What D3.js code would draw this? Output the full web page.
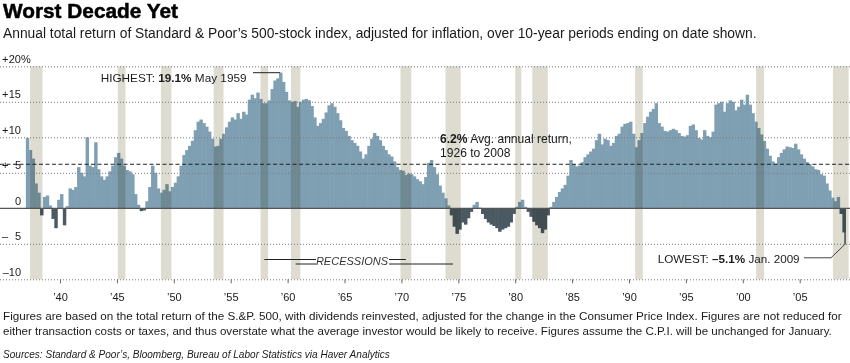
<!DOCTYPE html>
<html>
<head>
<meta charset="utf-8">
<script src="https://cdn.jsdelivr.net/npm/d3@7"></script>
<style>
body { margin: 0; background: #fff; }
svg text { font-family: "Liberation Sans", Arial, Helvetica, sans-serif; fill: #1a1a1a; }
</style>
</head>
<body>
<svg id="chart" width="850" height="363"></svg>
<script>
// 10-year annualized real total return, quarterly, period ending 1937 Q1 .. 2008 Q4
var startYear = 1937;
var returns1930s = [
  9.9, 8.2, 7.0, 3.5,   // 1937
  2.2, -1.0, 1.6, 1.8,  // 1938
  0.4, -1.5, -2.8, 1.2  // 1939
];
var returns1940s = [
  2.0, -2.4, 0.3, 2.8,
  2.6, 3.0, 5.8, 5.0,
  4.5, 10.0, 6.0, 5.8,
  9.3, 5.5, 4.5, 4.0,
  4.5, 5.2, 6.0, 7.2,
  7.8, 7.0, 6.0, 5.4,
  5.2, 4.8, 2.0, 0.5,
  -0.4, -0.3, 1.0, 3.0,
  6.0, 5.0, 2.8, 2.2,
  2.6, 3.4, 2.4, 3.0
];
var returns1950s = [
  3.6, 4.5, 6.0, 7.5,
  8.2, 8.8, 9.5, 11.0,
  12.2, 12.5, 12.0, 11.5,
  10.8, 9.8, 8.7, 8.8,
  9.8, 10.5, 11.4, 12.2,
  12.8, 12.5, 13.4, 12.6,
  13.6, 13.2, 15.3, 16.0,
  15.5, 16.3, 15.4, 14.8,
  14.8, 15.2, 16.8, 18.0,
  18.3, 19.1, 17.8, 16.4
];
var returns1960s = [
  15.2, 15.0, 15.1, 14.3,
  15.0, 15.3, 15.4, 15.2,
  14.4, 12.8, 11.6, 12.0,
  12.6, 13.5, 14.5, 14.8,
  14.3, 13.4, 12.4, 11.3,
  10.9, 10.2, 9.6, 9.2,
  8.8, 8.0, 7.0, 7.6,
  8.8, 9.8, 10.6, 10.2,
  9.6, 8.8, 8.2, 7.6,
  7.3, 6.6, 5.8, 5.4
];
var returns1970s = [
  5.3, 4.7, 4.9, 4.8,
  4.5, 4.1, 3.8, 3.4,
  4.4, 6.4, 6.8, 5.8,
  4.8, 3.2, 2.2, 1.4,
  0.4, -1.0, -2.6, -3.6,
  -3.0, -2.0, -2.3, -1.4,
  -0.5, 0.5, 0.9, 0.1,
  -0.8, -1.5, -2.0, -2.3,
  -2.5, -2.8, -3.3, -3.0,
  -2.8, -2.6, -2.0, -0.8
];
var returns1980s = [
  0.2, 0.9, 1.2, 0.2,
  -0.5, -1.2, -1.9, -2.4,
  -2.8, -3.5, -3.0, -1.0,
  0.2, 0.9, 1.6, 2.3,
  2.8, 3.3, 4.6, 6.8,
  6.2, 5.9, 6.0, 6.5,
  7.2, 7.6, 8.0, 8.4,
  9.6, 10.5, 9.0, 9.8,
  9.6, 8.8, 9.2, 10.2,
  10.5, 11.5, 11.9, 12.0
];
var returns1990s = [
  12.2, 10.5, 8.6, 9.6,
  10.6, 12.0, 12.9, 13.6,
  14.0, 14.8, 12.0, 11.5,
  10.9, 10.8, 11.0, 11.2,
  11.0, 10.6, 10.2, 10.1,
  10.3, 11.6, 11.8, 11.0,
  9.9, 9.7, 11.0, 10.2,
  10.0, 10.8, 14.6, 14.8,
  15.0, 13.6, 14.8, 15.2,
  15.0, 13.8, 14.3, 15.3
];
var returns2000s = [
  14.6, 16.0, 14.6, 13.4,
  12.2, 11.3, 10.4, 9.5,
  8.4, 7.4, 6.6, 6.3,
  7.2, 7.8, 8.3, 8.7,
  8.6, 8.5, 9.1, 8.3,
  7.6, 7.0, 6.5, 6.2,
  5.9, 5.5, 5.4, 4.8,
  4.6, 3.5, 2.5, 1.5,
  1.0, 1.6, -0.8, -3.4
];
var lastMonth = -5.1; // Jan. 2009

// NBER recessions, start/end as decimal years
var recessions = [
  [1937.37, 1938.46], [1945.08, 1945.75], [1948.87, 1949.79], [1953.5, 1954.37],
  [1957.62, 1958.29], [1960.29, 1961.12], [1969.92, 1970.87], [1973.87, 1975.21],
  [1980.0, 1980.54], [1981.5, 1982.87], [1990.54, 1991.21], [2001.17, 2001.87],
  [2007.92, 2009.3]
];

var gridTicks = [20, 15, 10, 5, -5, -10];
var yLabels = [
  {v: 20, sign: "+", num: "20", unit: "%"},
  {v: 15, sign: "+", num: "15"},
  {v: 10, sign: "+", num: "10"},
  {v: 5, sign: "+", num: "5"},
  {v: 0, sign: "", num: "0"},
  {v: -5, sign: "\u2013", num: "5"},
  {v: -10, sign: "", num: "\u201310"}
];
var xTicks = [1940, 1945, 1950, 1955, 1960, 1965, 1970, 1975, 1980, 1985, 1990, 1995, 2000, 2005];
var average = 6.2;

var returns = [].concat(returns1930s, returns1940s, returns1950s, returns1960s,
  returns1970s, returns1980s, returns1990s, returns2000s);

var data = returns.map(function (v, i) {
  return { t0: startYear + i / 4, t1: startYear + (i + 1) / 4, v: v };
});
data.push({ t0: 2008.92, t1: 2009.0, v: lastMonth });

var svg = d3.select("#chart");

var x = d3.scaleLinear().domain([1940, 2005]).range([60, 799.7]);
var y = d3.scaleLinear().domain([-10, 20]).range([279.3, 66.3]);

function fit(sel, w) {
  var len = sel.node().getComputedTextLength();
  var fs = parseFloat(sel.attr("font-size"));
  sel.attr("font-size", (fs * w / len).toFixed(2));
  return sel;
}

// title + subtitle
fit(svg.append("text").attr("x", 3).attr("y", 18).attr("font-size", 18.5)
  .attr("font-weight", "bold").style("fill", "#000")
  .style("stroke", "#000").style("stroke-width", 0.5)
  .text("Worst Decade Yet"), 175);
fit(svg.append("text").attr("x", 3).attr("y", 37.5).attr("font-size", 13)
  .text("Annual total return of Standard & Poor\u2019s 500-stock index, adjusted for inflation, over 10-year periods ending on date shown."), 754);

// bars
svg.append("g").selectAll("rect").data(data).enter().append("rect")
  .attr("x", function (d) { return x(d.t0); })
  .attr("width", function (d) { return x(d.t1) - x(d.t0) + 0.6; })
  .attr("y", function (d) { return y(Math.max(0, d.v)); })
  .attr("height", function (d) { return Math.abs(y(d.v) - y(0)); })
  .attr("fill", function (d) { return d.v >= 0 ? "#7f9fb3" : "#4a5962"; });

// recession bands, multiplied over the bars
svg.append("g").selectAll("rect").data(recessions).enter().append("rect")
  .attr("x", function (d) { return x(d[0]); })
  .attr("width", function (d) { return x(d[1]) - x(d[0]); })
  .attr("y", y(20))
  .attr("height", y(-10) - y(20))
  .attr("fill", "#dedbd0")
  .style("mix-blend-mode", "multiply");

// dotted grid
var grid = svg.append("g").call(d3.axisRight(y).tickValues(gridTicks).tickSize(850).tickFormat(""));
grid.select(".domain").remove();
grid.selectAll("line").attr("stroke", "#7a7a7a").attr("stroke-dasharray", "1,2");

// average line
svg.append("line").attr("x1", 0).attr("x2", 850)
  .attr("y1", y(average)).attr("y2", y(average))
  .attr("stroke", "#222").attr("stroke-dasharray", "4,2.5");

// zero line
svg.append("line").attr("x1", 0).attr("x2", 850)
  .attr("y1", y(0)).attr("y2", y(0))
  .attr("stroke", "#555").attr("stroke-width", 1.2);

// y labels
var yl = svg.append("g").attr("font-size", 11);
yLabels.forEach(function (d) {
  var by = y(d.v) - 3.6;
  if (d.sign) yl.append("text").attr("x", 2).attr("y", by).text(d.sign);
  yl.append("text").attr("x", 21).attr("y", by).attr("text-anchor", "end").text(d.num);
  if (d.unit) yl.append("text").attr("x", 21).attr("y", by).text(d.unit);
});

// x axis
var xa = svg.append("g").attr("transform", "translate(0," + y(-10) + ")")
  .call(d3.axisBottom(x).tickValues(xTicks).tickSize(4).tickPadding(10)
    .tickFormat(function (d) { return "\u2019" + String(d).slice(2); }));
xa.select(".domain").remove();
xa.selectAll("line").attr("stroke", "#666");
xa.selectAll("text").attr("font-size", 11).attr("font-family", null).style("fill", "#1a1a1a");

// highest
var hi = svg.append("text").attr("x", 100.7).attr("y", 81.7).attr("font-size", 11);
hi.append("tspan").text("HIGHEST: ");
hi.append("tspan").attr("font-weight", "bold").text("19.1%");
hi.append("tspan").text(" May 1959");
fit(hi, 146);
svg.append("line").attr("x1", 253).attr("x2", x(1959.35))
  .attr("y1", y(19.1)).attr("y2", y(19.1)).attr("stroke", "#222");

// average note
var av = svg.append("text").attr("x", 440).attr("y", 142.7).attr("font-size", 11.5);
av.append("tspan").attr("font-weight", "bold").text("6.2%");
av.append("tspan").text(" Avg. annual return,");
fit(av, 132);
svg.append("text").attr("x", 440).attr("y", 156.7).attr("font-size", av.attr("font-size")).text("1926 to 2008");

// recessions label
var rc = (function (r) { return x((r[0] + r[1]) / 2); });
svg.append("text").attr("x", 352).attr("y", 264.6).attr("font-size", 11)
  .attr("text-anchor", "middle").attr("font-style", "italic").style("fill", "#333")
  .text("RECESSIONS");
var recLines = [
  [rc(recessions[4]), 316, 259.5], [rc(recessions[5]), 316, 264],
  [389, rc(recessions[6]), 259.5], [389, rc(recessions[7]), 264]
];
svg.append("g").selectAll("line").data(recLines).enter().append("line")
  .attr("x1", function (d) { return d[0]; }).attr("x2", function (d) { return d[1]; })
  .attr("y1", function (d) { return d[2]; }).attr("y2", function (d) { return d[2]; })
  .attr("stroke", "#222");

// lowest
var lo = svg.append("text").attr("x", 657.7).attr("y", 263.3).attr("font-size", 11);
lo.append("tspan").text("LOWEST: ");
lo.append("tspan").attr("font-weight", "bold").text("\u20135.1%");
lo.append("tspan").text(" Jan. 2009");
fit(lo, 142);
svg.append("polyline")
  .attr("points", [[804, 257.8], [831, 257.8], [x(2008.96), y(lastMonth)]].join(" "))
  .attr("fill", "none").attr("stroke", "#444");

// notes
fit(svg.append("text").attr("x", 3).attr("y", 320).attr("font-size", 11)
  .text("Figures are based on the total return of the S.&P. 500, with dividends reinvested, adjusted for the change in the Consumer Price Index.  Figures are not reduced for"), 839);
fit(svg.append("text").attr("x", 3).attr("y", 334.5).attr("font-size", 11)
  .text("either transaction costs or taxes, and thus overstate what the average investor would be likely to receive. Figures assume the C.P.I. will be unchanged for January."), 830);
fit(svg.append("text").attr("x", 3).attr("y", 358).attr("font-size", 9).attr("font-style", "italic")
  .text("Sources: Standard & Poor\u2019s, Bloomberg, Bureau of Labor Statistics via Haver Analytics"), 387);
</script>
</body>
</html>
